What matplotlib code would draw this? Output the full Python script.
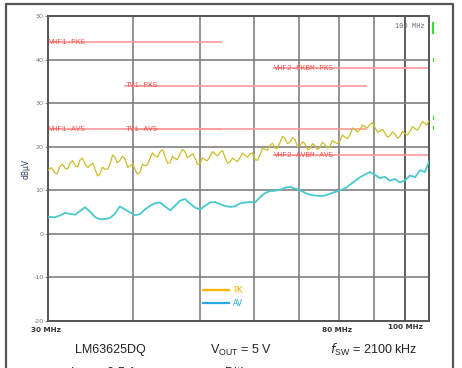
import numpy as np
import matplotlib
matplotlib.use("Agg")
import matplotlib.pyplot as plt
from matplotlib.lines import Line2D

# --- data (MHz, dBuV) ---
# peak trace: noisy, read at about every 2.5 px
pk_freq = [30.0, 30.35, 30.7, 30.95, 31.2, 31.5, 31.8, 32.05, 32.3, 32.6, 32.9, 33.15,
           33.4, 33.7, 34.0, 34.3, 34.6, 34.9, 35.2, 35.45, 35.7, 36.05, 36.4, 36.7,
           37.0, 37.3, 37.6, 37.9, 38.2, 38.55, 38.9, 39.25, 39.6, 39.9, 40.2, 40.55,
           40.9, 41.25, 41.6, 41.95, 42.3, 42.65, 43.0, 43.4, 43.8, 44.15, 44.5, 44.9,
           45.3, 45.65, 46.0, 46.4, 46.8, 47.2, 47.6, 48.0, 48.4, 48.85, 49.3, 49.7,
           50.1, 50.5, 50.9, 51.35, 51.8, 52.25, 52.7, 53.15, 53.6, 54.05, 54.5, 54.95,
           55.4, 55.9, 56.4, 56.85, 57.3, 57.8, 58.3, 58.8, 59.3, 59.8, 60.3, 60.8,
           61.3, 61.85, 62.4, 62.9, 63.4, 63.95, 64.5, 65.05, 65.6, 66.15, 66.7, 67.25,
           67.8, 68.4, 69.0, 69.6, 70.2, 70.8, 71.4, 72.0, 72.6, 73.2, 73.8, 74.4,
           75.0, 75.65, 76.3, 76.95, 77.6, 78.25, 78.9, 79.6, 80.3, 80.95, 81.6, 82.35,
           83.1, 83.8, 84.5, 85.2, 85.9, 86.6, 87.3, 88.05, 88.8, 89.6, 90.4, 91.15,
           91.9, 92.65, 93.4, 94.2, 95.0, 95.8, 96.6, 97.45, 98.3, 99.15, 100.0, 100.85,
           101.7, 102.55, 103.4, 104.3, 105.2, 106.05, 106.9, 107.65, 108.4]
pk_level = [14.6, 15.2, 14.0, 13.8, 15.4, 16.0, 15.0, 14.9, 16.2, 16.8, 15.6, 15.4,
            16.9, 17.4, 16.0, 15.2, 15.8, 16.2, 14.6, 13.3, 13.6, 15.3, 14.8, 14.9,
            16.2, 18.1, 17.6, 16.3, 16.8, 17.8, 17.2, 15.3, 15.6, 16.1, 14.9, 13.7,
            14.1, 16.0, 15.6, 15.9, 17.2, 18.6, 18.0, 17.6, 18.9, 19.3, 17.8, 16.2,
            16.4, 17.8, 17.3, 17.0, 18.3, 19.4, 18.9, 17.5, 17.9, 18.4, 17.3, 15.9,
            16.1, 17.5, 17.0, 16.8, 17.8, 18.9, 18.3, 17.9, 18.7, 19.1, 17.5, 16.2,
            16.5, 17.4, 16.9, 16.6, 17.5, 18.5, 18.0, 17.6, 18.4, 18.6, 17.0, 16.9,
            18.1, 19.7, 19.4, 19.2, 20.3, 20.8, 19.7, 19.6, 21.0, 22.4, 21.9, 20.7,
            21.0, 22.1, 21.6, 20.0, 20.3, 21.1, 20.6, 19.3, 19.6, 20.7, 20.2, 19.4,
            19.8, 21.0, 20.5, 19.7, 20.0, 21.4, 21.0, 20.7, 21.4, 22.7, 22.2, 21.9,
            22.8, 24.3, 23.9, 23.4, 24.0, 25.0, 24.6, 24.3, 25.1, 25.5, 24.3, 23.3,
            23.6, 24.0, 23.2, 22.2, 22.5, 23.4, 22.9, 22.0, 22.4, 23.5, 23.0, 22.7,
            23.6, 24.6, 24.1, 23.8, 24.8, 25.8, 25.3, 25.0, 26.0]

# average trace: smooth
av_freq = [30.0, 30.7, 31.2, 31.8, 32.3, 32.9, 33.4, 34.0, 34.6, 35.2, 35.7, 36.4,
           37.0, 37.6, 38.2, 38.9, 39.6, 40.2, 40.9, 41.6, 42.3, 43.0, 43.8, 44.5,
           45.3, 46.0, 46.8, 47.6, 48.4, 49.3, 50.1, 50.9, 51.8, 52.7, 53.6, 54.5,
           55.4, 56.4, 57.3, 58.3, 59.3, 60.3, 61.3, 62.4, 63.4, 64.5, 65.6, 66.7,
           67.8, 69.0, 70.2, 71.4, 72.6, 73.8, 75.0, 76.3, 77.6, 78.9, 80.3, 81.6,
           83.1, 84.5, 85.9, 87.3, 88.8, 90.4, 91.9, 93.4, 95.0, 96.6, 98.3, 100.0,
           101.7, 103.4, 105.2, 106.9, 108.4]
av_level = [3.9, 3.8, 4.2, 4.8, 4.6, 4.4, 5.2, 6.1, 5.0, 3.8, 3.4, 3.4,
            3.7, 4.6, 6.3, 5.6, 4.9, 4.3, 4.5, 5.6, 6.4, 7.0, 7.2, 6.3,
            5.4, 6.4, 7.6, 8.0, 7.0, 6.0, 5.6, 6.4, 7.2, 7.3, 6.8, 6.4,
            6.2, 6.3, 7.0, 7.2, 7.3, 7.2, 8.4, 9.4, 9.8, 9.9, 10.1, 10.6,
            10.8, 10.4, 10.0, 9.4, 9.0, 8.8, 8.7, 8.8, 9.2, 9.6, 10.0, 10.4,
            11.3, 12.2, 13.0, 13.6, 14.2, 13.5, 12.8, 13.1, 12.2, 12.6, 11.8, 12.3,
            13.4, 13.0, 14.6, 14.2, 16.6]

limit_names = ["VHF1-PK5", "TV1-PK5", "VHF1-AV5", "TV1-AV5", "VHF2-PKBM-PK5", "VHF2-AVBM-AV5"]
limit_start = [30.0, 38.8, 30.0, 38.8, 64.0, 64.0]
limit_stop = [54.0, 88.0, 54.0, 88.0, 108.4, 108.4]
limit_level = [44, 34, 24, 24, 38, 18]

y_ticks = [50, 40, 30, 20, 10, 0, -10, -20]
x_grid = [40, 50, 60, 70, 80, 90, 100]

fig = plt.figure(figsize=(4.62, 3.68), dpi=100)
ax = fig.add_axes([0.1039, 0.1277, 0.8247, 0.8288])

ax.set_xscale('log')
ax.set_xlim(30, 108.4)
ax.set_ylim(-20, 50)

# grid
for f in x_grid:
    ax.axvline(f, color='#444444' if f == 100 else '#808080', lw=1.2, zorder=1)
for v in y_ticks:
    ax.axhline(v, color='#808080', lw=1.2, zorder=1)

# limit lines + labels
for name, a, b, lv in zip(limit_names, limit_start, limit_stop, limit_level):
    ax.hlines(lv, a, b, color='#ff9a9a', lw=1.2, zorder=2)
    ax.text(a * 1.004, lv, name, color='#ff3b3b', fontsize=5.6,
            family='Liberation Mono', ha='left', va='center', zorder=3, alpha=0.85)

# traces
ax.plot(pk_freq, pk_level, color='#cbbd2c', lw=0.9, zorder=4)
ax.plot(av_freq, av_level, color='#48c9cc', lw=1.3, zorder=4)

ax.set_xticks([])
ax.set_xticks([], minor=True)
ax.set_yticks(y_ticks)
ax.set_yticklabels([str(v) for v in y_ticks], fontsize=4.6, color='#777777')
ax.tick_params(axis='y', length=2, width=0.6, color='#777777', pad=1)
for s in ax.spines.values():
    s.set_color('#555555')
    s.set_linewidth(1.4)

ax.text(0.99, 0.978, '100 MHz', transform=ax.transAxes, ha='right', va='top',
        fontsize=5, color='#666666', family='Liberation Mono')

# legend
handles = [Line2D([], [], color='#f7b500', lw=1.6),
           Line2D([], [], color='#2aa7e5', lw=1.6)]
leg = ax.legend(handles, ['PK', 'AV'], loc='lower left', bbox_to_anchor=(0.39, 0.02),
                frameon=False, fontsize=5.5, handlelength=3.4, handletextpad=0.5,
                labelspacing=0.55)
for t, c in zip(leg.get_texts(), ['#f7b500', '#2aa7e5']):
    t.set_color(c)

ax.set_ylabel('dBµV', fontsize=5.5, color='#2b3a5c', labelpad=2)

# frequency labels under the plot
fig.text(46 / 462, 1 - 330 / 368, '30 MHz', ha='center', va='center', fontsize=5.2,
         fontweight='bold', color='#333333')
fig.text(337 / 462, 1 - 330 / 368, '80 MHz', ha='center', va='center', fontsize=5.2,
         fontweight='bold', color='#333333')
fig.text(405 / 462, 1 - 327 / 368, '100 MHz', ha='center', va='center', fontsize=5.2,
         fontweight='bold', color='#333333')

# caption (second row is cut by the lower edge, as in the reference)
cap = dict(fontsize=9, color='#222222', family='Liberation Sans', va='center')
fig.text(110 / 462, 1 - 350 / 368, 'LM63625DQ', ha='center', **cap)
fig.text(210 / 462, 1 - 350 / 368, r'V$_{\mathregular{OUT}}$ = 5 V', ha='left', **cap)
fig.text(330 / 462, 1 - 350 / 368, r'$\mathit{f}$$_{\mathregular{SW}}$ = 2100 kHz',
         ha='left', **cap)
fig.text(70 / 462, 1 - 373 / 368, r'I$_{\mathregular{OUT}}$ = 2.5 A', ha='left', **cap)
fig.text(225 / 462, 1 - 373 / 368, 'Dither', ha='left', **cap)

# green markers at right edge
for y0, y1, lw in [(23, 33, 1.6), (58, 61, 0.8), (116, 119, 0.8), (126, 129, 0.8)]:
    fig.add_artist(Line2D([433 / 462] * 2, [1 - y0 / 368, 1 - y1 / 368],
                          color='#33dd33', lw=lw))

# outer frame
fig.add_artist(Line2D([6 / 462, 6 / 462, 453 / 462, 453 / 462],
                      [0, 1 - 4 / 368, 1 - 4 / 368, 0], color='#555555', lw=1.6))

fig.savefig('out.png', dpi=100, facecolor='white')
